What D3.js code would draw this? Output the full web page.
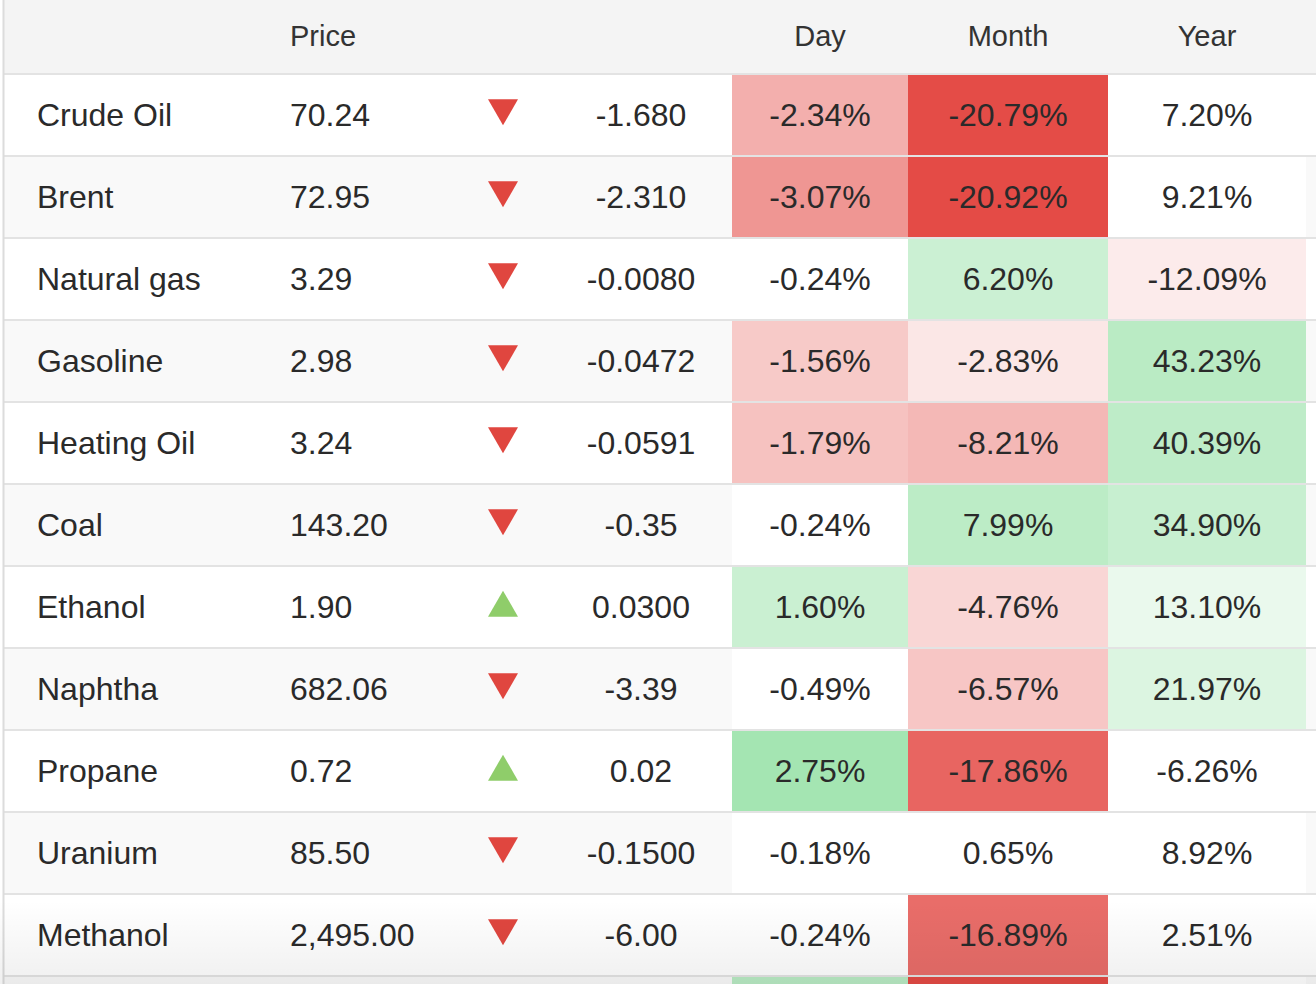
<!DOCTYPE html>
<html>
<head>
<meta charset="utf-8">
<script src="https://cdn.jsdelivr.net/npm/d3@7"></script>
<style>
  body { margin: 0; background: #fff; }
  svg { display: block; font-family: "Liberation Sans", Arial, Helvetica, sans-serif; }
</style>
</head>
<body>
<div id="chart"></div>
<script>
// Data
const names = ['Crude Oil', 'Brent', 'Natural gas', 'Gasoline', 'Heating Oil', 'Coal',
  'Ethanol', 'Naphtha', 'Propane', 'Uranium', 'Methanol', '']
const prices = [70.24, 72.95, 3.29, 2.98, 3.24, 143.20, 1.90, 682.06, 0.72, 85.50, 2495.00, null]
const changes = [-1.680, -2.310, -0.0080, -0.0472, -0.0591, -0.35, 0.0300, -3.39, 0.02, -0.1500, -6.00, null]
const changeDecimals = [3, 3, 4, 4, 4, 2, 4, 2, 2, 4, 2, 2]
const dayPct = [-2.34, -3.07, -0.24, -1.56, -1.79, -0.24, 1.60, -0.49, 2.75, -0.18, -0.24, 2.1]
const monthPct = [-20.79, -20.92, 6.20, -2.83, -8.21, 7.99, -4.76, -6.57, -17.86, 0.65, -16.89, -21.5]
const yearPct = [7.20, 9.21, -12.09, 43.23, 40.39, 34.90, 13.10, 21.97, -6.26, 8.92, 2.51, 3.0]
const headers = ['Price', 'Day', 'Month', 'Year']

function draw() {
  let dimensions = {
    width: 1316,
    height: 984,
    headerHeight: 74,
    rowHeight: 82
  }

  const rows = names.map((n, i) => ({
    i, name: n, price: prices[i], change: changes[i], dec: changeDecimals[i],
    day: dayPct[i], month: monthPct[i], year: yearPct[i]
  }))

  const svg = d3.select('#chart')
    .append('svg')
    .attr('width', dimensions.width)
    .attr('height', dimensions.height)

  // Scales
  const yScale = d3.scaleBand()
    .domain(d3.range(rows.length))
    .range([dimensions.headerHeight, dimensions.headerHeight + dimensions.rowHeight * rows.length])

  // percent column cells
  const pctCols = [
    { key: 'day', x0: 732, x1: 908, k: 5.3 },
    { key: 'month', x0: 908, x1: 1108, k: 21 },
    { key: 'year', x0: 1108, x1: 1306, k: 110 }
  ]
  pctCols.forEach(c => {
    c.color = d3.scaleLinear()
      .domain([-c.k, 0, c.k])
      .range(['#e44a45', '#ffffff', '#4fcc6a'])
      .clamp(true)
  })
  const cellFill = (c, v) => Math.abs(v) < c.k * 0.1 ? '#ffffff' : c.color(v)

  // hyphen minus like the source table
  const locale = d3.formatLocale({ decimal: '.', thousands: ',', grouping: [3], currency: ['$', ''], minus: '-' })
  const fmtPrice = locale.format(',.2f')
  const fmtPct = locale.format('.2f')

  // header
  svg.append('rect')
    .attr('x', 4).attr('y', 0)
    .attr('width', dimensions.width - 4).attr('height', dimensions.headerHeight)
    .attr('fill', '#f4f4f4')

  const headerX = [290, 820, 1008, 1207]
  svg.selectAll('text.header')
    .data(headers)
    .join('text')
    .attr('class', 'header')
    .attr('x', (d, i) => headerX[i])
    .attr('y', 36)
    .attr('dy', '0.35em')
    .attr('text-anchor', (d, i) => i === 0 ? 'start' : 'middle')
    .attr('font-size', 29)
    .attr('fill', '#333')
    .text(d => d)

  // rows
  const rowG = svg.selectAll('g.row')
    .data(rows)
    .join('g')
    .attr('class', 'row')
    .attr('transform', d => `translate(0, ${yScale(d.i)})`)

  rowG.append('rect')
    .attr('x', 4)
    .attr('width', dimensions.width - 4)
    .attr('height', yScale.bandwidth())
    .attr('fill', d => d.i % 2 === 0 ? '#ffffff' : '#f9f9f9')

  pctCols.forEach(c => {
    rowG.append('rect')
      .attr('x', c.x0)
      .attr('width', c.x1 - c.x0)
      .attr('height', yScale.bandwidth())
      .attr('fill', d => cellFill(c, d[c.key]))
  })

  const mid = yScale.bandwidth() / 2
  const shown = rowG.filter(d => d.name !== '')

  shown.append('text')
    .attr('x', 37).attr('y', mid).attr('dy', '0.35em')
    .attr('font-size', 32).attr('fill', '#2a2a2a')
    .text(d => d.name)

  shown.append('text')
    .attr('x', 290).attr('y', mid).attr('dy', '0.35em')
    .attr('font-size', 32).attr('fill', '#2a2a2a')
    .text(d => fmtPrice(d.price))

  const tri = d3.symbol(d3.symbolTriangle).size(390)
  shown.append('path')
    .attr('d', tri)
    .attr('transform', d => d.change >= 0
      ? `translate(503, ${mid + 1})`
      : `translate(503, ${mid - 7}) rotate(180)`)
    .attr('fill', d => d.change >= 0 ? '#8fcd6a' : '#e0463f')

  shown.append('text')
    .attr('x', 641).attr('y', mid).attr('dy', '0.35em')
    .attr('text-anchor', 'middle')
    .attr('font-size', 32).attr('fill', '#2a2a2a')
    .text(d => locale.format(`.${d.dec}f`)(d.change))

  pctCols.forEach(c => {
    shown.append('text')
      .attr('x', (c.x0 + c.x1) / 2).attr('y', mid).attr('dy', '0.35em')
      .attr('text-anchor', 'middle')
      .attr('font-size', 32).attr('fill', '#2a2a2a')
      .text(d => fmtPct(d[c.key]) + '%')
  })

  // separators
  svg.selectAll('line.sep')
    .data(d3.range(rows.length))
    .join('line')
    .attr('class', 'sep')
    .attr('x1', 4).attr('x2', dimensions.width)
    .attr('y1', d => yScale(d)).attr('y2', d => yScale(d))
    .attr('stroke', '#e3e3e3')
    .attr('stroke-width', 2)

  // left border
  svg.append('line')
    .attr('x1', 3.5).attr('x2', 3.5)
    .attr('y1', 0).attr('y2', dimensions.height)
    .attr('stroke', '#dcdcdc')
    .attr('stroke-width', 2)

  // bottom shade
  const grad = svg.append('defs').append('linearGradient')
    .attr('id', 'shade')
    .attr('x1', 0).attr('x2', 0).attr('y1', 0).attr('y2', 1)
  grad.append('stop').attr('offset', '0%').attr('stop-color', '#000').attr('stop-opacity', 0)
  grad.append('stop').attr('offset', '100%').attr('stop-color', '#000').attr('stop-opacity', 0.06)
  svg.append('rect')
    .attr('x', 0).attr('y', 900)
    .attr('width', dimensions.width).attr('height', dimensions.height - 900)
    .attr('fill', 'url(#shade)')
}

draw()
</script>
</body>
</html>
